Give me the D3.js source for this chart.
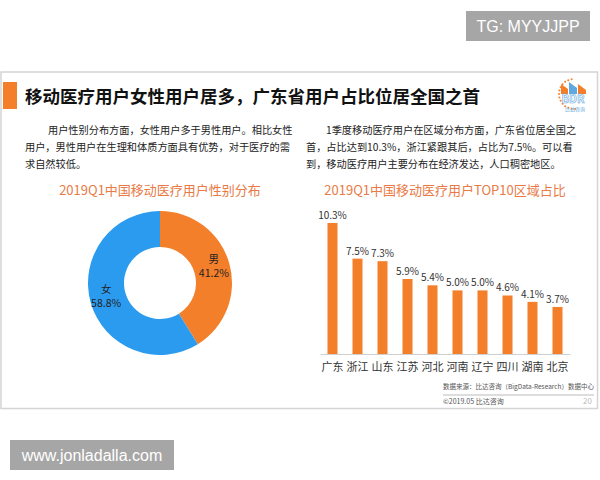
<!DOCTYPE html>
<html>
<head>
<meta charset="utf-8">
<script src="https://cdn.jsdelivr.net/npm/d3@7"></script>
<style>
  body { margin: 0; background: #fff; }
  svg { display: block; font-family: "Noto Sans CJK SC", "Noto Sans", sans-serif; }
</style>
</head>
<body>
<div id="chart"></div>
<script>
// gender split (donut)
var genderLabels = ["男", "女"];
var genderValues = [41.2, 58.8];
// top 10 regions
var regions = ["广东", "浙江", "山东", "江苏", "河北", "河南", "辽宁", "四川", "湖南", "北京"];
var regionValues = [10.3, 7.5, 7.3, 5.9, 5.4, 5.0, 5.0, 4.6, 4.1, 3.7];

var orange = "#f47f2b";
var blue = "#2b9bf0";
var titleOrange = "#e97a45";

var svg = d3.select("#chart").append("svg").attr("width", 600).attr("height", 480);

// watermarks
svg.append("rect").attr("x", 466).attr("y", 11).attr("width", 124).attr("height", 30).attr("fill", "#a6a6a6");
svg.append("text").attr("x", 528).attr("y", 32).attr("text-anchor", "middle")
  .attr("fill", "#fff").style("font-family", "Liberation Sans, Arial, sans-serif").style("font-size", "16px").text("TG: MYYJJPP");
svg.append("rect").attr("x", 10).attr("y", 440).attr("width", 164).attr("height", 30).attr("fill", "#a6a6a6");
svg.append("text").attr("x", 92).attr("y", 461).attr("text-anchor", "middle")
  .attr("fill", "#fff").style("font-family", "Liberation Sans, Arial, sans-serif").style("font-size", "16px").text("www.jonladalla.com");

// slide frame
svg.append("rect").attr("x", 1).attr("y", 72).attr("width", 596.5).attr("height", 336.5)
  .attr("fill", "#fff").attr("stroke", "#d4d4d4").attr("stroke-width", 1.5);

// title
svg.append("rect").attr("x", 3).attr("y", 82).attr("width", 14).attr("height", 27).attr("fill", orange);
svg.append("text").attr("x", 25).attr("y", 103).attr("fill", "#111")
  .style("font-size", "17.5px").style("font-weight", "bold")
  .text("移动医疗用户女性用户居多，广东省用户占比位居全国之首");

// logo
var logo = svg.append("g").attr("transform", "translate(572,92)");
var dots = d3.range(14).map(function (i) { return Math.PI * (0.55 + i * 0.075); });
logo.selectAll("circle").data(dots).enter().append("circle")
  .attr("cx", function (a) { return 15 * Math.cos(a) + 2; })
  .attr("cy", function (a) { return -15 * Math.sin(a) + 2; })
  .attr("r", 1).attr("fill", orange);
logo.append("path").attr("d", "M-11,2 L-11,-8 L-4,-3 L-4,2 Z").attr("fill", orange);
logo.append("path").attr("d", "M-3,2 L-3,-10 L5,-4 L5,2 Z").attr("fill", "#5fa8e0");
logo.append("path").attr("d", "M6,2 L6,-8 L14,-2 L14,2 Z").attr("fill", orange);
logo.append("text").attr("x", 1).attr("y", 11).attr("text-anchor", "middle")
  .attr("fill", "#fff").attr("stroke", "#5fa8e0").attr("stroke-width", 0.6)
  .style("font-size", "11px").style("font-weight", "bold").text("BDR");
logo.append("text").attr("x", 3).attr("y", 19).attr("text-anchor", "middle")
  .attr("fill", "#5fa8e0").style("font-size", "5px").text("比达咨询");

// paragraphs
function para(x, lines, indent) {
  var t = svg.append("text").attr("fill", "#222").style("font-size", "10.2px");
  lines.forEach(function (l, i) {
    t.append("tspan").attr("x", x + (i === 0 ? indent : 0)).attr("y", 134 + i * 17).text(l);
  });
}
para(25, ["用户性别分布方面，女性用户多于男性用户。相比女性",
          "用户，男性用户在生理和体质方面具有优势，对于医疗的需",
          "求自然较低。"], 23);
para(306, ["1季度移动医疗用户在区域分布方面，广东省位居全国之",
           "首，占比达到10.3%，浙江紧跟其后，占比为7.5%。可以看",
           "到，移动医疗用户主要分布在经济发达，人口稠密地区。"], 20);

// chart titles
svg.append("text").attr("x", 160).attr("y", 195).attr("text-anchor", "middle")
  .attr("fill", titleOrange).style("font-size", "13px").text("2019Q1中国移动医疗用户性别分布");
svg.append("text").attr("x", 445).attr("y", 195).attr("text-anchor", "middle")
  .attr("fill", titleOrange).style("font-size", "13px").text("2019Q1中国移动医疗用户TOP10区域占比");

// donut
var pie = d3.pie().sort(null).value(function (d) { return d; });
var arcs = pie(genderValues);
var arc = d3.arc().innerRadius(36).outerRadius(72);
var labelArc = d3.arc().innerRadius(56).outerRadius(56);
var donut = svg.append("g").attr("transform", "translate(160,283)");
donut.selectAll("path").data(arcs).enter().append("path")
  .attr("d", arc).attr("fill", function (d, i) { return i === 0 ? orange : blue; });
var labG = donut.selectAll("g.lab").data(arcs).enter().append("g")
  .attr("class", "lab")
  .attr("transform", function (d) {
    var c = labelArc.centroid(d);
    return "translate(" + c[0] + "," + c[1] + ")";
  });
labG.append("text").attr("y", -5).attr("text-anchor", "middle").attr("fill", "#222").style("font-size", "10.5px")
  .text(function (d, i) { return genderLabels[i]; });
labG.append("text").attr("y", 9).attr("text-anchor", "middle").attr("fill", "#222").style("font-size", "10.5px")
  .text(function (d) { return d.value.toFixed(1) + "%"; });

// bars
var x = d3.scaleBand().domain(regions).range([320, 570]).paddingInner(0.6).paddingOuter(0.3);
var y = d3.scaleLinear().domain([0, 10.3]).range([354, 223]);
var bars = svg.append("g");
bars.selectAll("rect").data(regionValues).enter().append("rect")
  .attr("x", function (d, i) { return x(regions[i]); })
  .attr("y", function (d) { return y(d); })
  .attr("width", x.bandwidth())
  .attr("height", function (d) { return y(0) - y(d); })
  .attr("fill", orange);
bars.selectAll("text").data(regionValues).enter().append("text")
  .attr("x", function (d, i) { return x(regions[i]) + x.bandwidth() / 2; })
  .attr("y", function (d) { return y(d) - 4; })
  .attr("text-anchor", "middle").attr("fill", "#333").style("font-size", "10px")
  .text(function (d) { return d.toFixed(1) + "%"; });

var axis = svg.append("g").attr("transform", "translate(0,354)")
  .call(d3.axisBottom(x).tickSize(0).tickPadding(9));
axis.select(".domain").attr("stroke", "#d0d0d0");
axis.selectAll("text").attr("fill", "#333").style("font-size", "11px")
  .style("font-family", "Noto Sans CJK SC, sans-serif");

// footer
svg.append("text").attr("x", 443).attr("y", 389).attr("fill", "#555").style("font-size", "6.5px")
  .text("数据来源：比达咨询（BigData-Research）数据中心");
svg.append("line").attr("x1", 443).attr("x2", 594).attr("y1", 395).attr("y2", 395)
  .attr("stroke", "#aaa").attr("stroke-width", 0.8);
svg.append("text").attr("x", 443).attr("y", 404).attr("fill", "#555").style("font-size", "7px")
  .text("©2019.05 比达咨询");
svg.append("text").attr("x", 592).attr("y", 404).attr("text-anchor", "end").attr("fill", "#bbb").style("font-size", "8px")
  .text("20");
</script>
</body>
</html>
